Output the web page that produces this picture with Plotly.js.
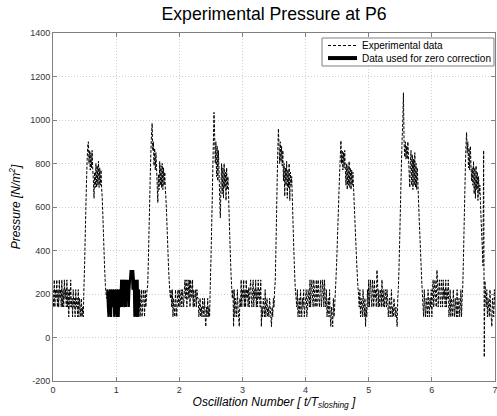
<!DOCTYPE html>
<html>
<head>
<meta charset="utf-8">
<script src="https://cdn.plot.ly/plotly-3.0.1.min.js"></script>
<style>
  html, body { margin: 0; padding: 0; background: #fff; }
  #chart { width: 497px; height: 416px; }
</style>
</head>
<body>
<div id="chart"></div>
<script>
// Sample spacing of the record (oscillation numbers)
const sampleStart = 0;
const sampleStep = 0.01;

// Pressure samples [N/m^2], segment by segment
const baseA = [220,140,265,140,220,180,265,140,220,140, 265,180,220,140,265,140,220,140,265,180,
  220,140,265,140,220,95,220,140,265,140, 180,95,220,140,180,95,220,140,180,95,
  220,95,180,140,95,180,95,140,95];
const pulse1 = [230,330,460,590,710,810,880, 900,800,860,770,850,780,860,770,
  720,640,760,690, 800,690,790,700,810,690,780,700,770,690, 640,560,470,380,300,240,200,180];
const baseB = [220,140,95,180,220,140,95,220,140,180, 220,95,140,220,180,95,220,140,95,220,140,180,
  265,140,220,265,180,140,265,220,140,265,180,265,140,220,265, 310,265,310,220,310,
  265,95,220,265,95,180,265,95, 220,140,95,180,220,95,140,220,180,95,220,140,180,220];
const pulse2 = [240,350,480,610,740,850,930, 985,860,900,790,870,770,850,780,
  700,620,750,680, 810,700,790,690,800,680,780,700,760,680, 630,560,480,400,320,260,210,180,220];
const baseC = [140,220,95,180,140,95,220,140,95,180,220,140, 220,140,180,220,140,220,180,140,220,265,
  180,265,140,220,265,180,265,140,265,220,180,265,140, 220,140,180,220,140,220,180,
  180,95,140,180,95,140,95,180,140,95,180,95,50,140,95,180,95,140,95];
const pulse3 = [230,340,470,610,760,900,1035, 930,800,900,740,880,720,860,760,
  640,550,700, 800,660,780,640,800,690,760,630,780,680,740, 660,560,460,370,290,230,180,220];
const baseD = [50,220,95,180,140,95,220,140,95,50,180,140,
  265,140,220,180,265,140,220,140,265,180,220,140,230,140,220,265,180,140,220,265,140,220,180,265,140,220,140,265,180,220,140,265,
  50,140,95,180,140,95,220,95,140,180,95,140,95,180,140,95,50,140,95,180,140,220];
const pulse4 = [260,400,560,720,860,960, 880,800,900,810,880,790,860,
  720,800,650,780,700,810,640,770,690,800,630,760,700, 740,640,540,440,350,270,210,180,140];
const baseE = [220,95,140,180,95,220,140,95,180,140,220,95,140,180,220,95,140,220,180,140,
  265,140,220,265,180,140,265,220,140,180,265,140,220,265,180,140,220,265,140,180,265,220,140,265,180,140,220,
  95,140,180,95,220,95,50,140,95,50,180,95,140];
const pulse5 = [200,260,330,410,500,590,680,760,830,905, 800,860,770,850,780,860,770,
  700,800,680,790,700,810,690,780,680,770,700,760, 690,620,550,480,410,340,280,230,190,140,220];
const baseF = [95,180,140,95,220,140,95,180,50,140,95,220,140,
  265,140,220,265,180,140,265,220,140,265,180,220,140,310,265,140,
  220,140,180,220,140,265,180,140,220,140,180,220,140,220,180,
  95,140,180,95,140,220,95,140,95,180,140,95,140,95,50,180];
const pulse6 = [230,320,440,570,700,820,920,1000,1125, 900,830,900,820,880,820,900,830,
  760,690,800, 860,700,840,680,820,700,850,690,800,680,780, 700,620,540,470,400,330,260,200,140];
const baseG = [95,220,140,95,180,140,95,220,140,95,180,140,220,95,
  220,265,140,220,265,180,140,310,265,140,220,265,180,140,265,220,140,265,180,220,140,265,140,220,180,265,
  95,140,220,95,180,140,95,220,140,95,180,140,95,220,95,140,180,95,140,220,95,180];
const pulse7End = [240,360,500,640,770,880,943, 850,900,780,870,770,880,790, 720,780,
  700,810,660,780,640,790,680,760,630,740,660,700, 620,540,470,400,330,860,-90,260,200,140,
  220,95,180,140,95,220,140,95,50,180,140,95,220,140];

// Window used for the zero correction (sample indices)
const zeroStartIndex = 86;
const zeroEndIndex = 137;

// Axis ticks
const xTicks = [0,1,2,3,4,5,6,7];
const yTicks = [-200,0,200,400,600,800,1000,1200,1400];

const pressure = [].concat(baseA, pulse1, baseB, pulse2, baseC, pulse3, baseD,
  pulse4, baseE, pulse5, baseF, pulse6, baseG, pulse7End);

const zeroData = pressure.slice(zeroStartIndex, zeroEndIndex + 1);

const FONT = 'Liberation Sans, Arial, Helvetica, sans-serif';

const traces = [
  {
    type: 'scatter', mode: 'lines', name: 'Experimental data',
    x0: sampleStart, dx: sampleStep, y: pressure,
    line: { color: '#000', width: 1, dash: '3px,1.5px', simplify: false },
    hoverinfo: 'skip', showlegend: false
  },
  {
    type: 'scatter', mode: 'lines', name: 'Data used for zero correction',
    x0: sampleStart + zeroStartIndex * sampleStep, dx: sampleStep, y: zeroData,
    line: { color: '#000', width: 2.2, simplify: false },
    hoverinfo: 'skip', showlegend: false
  }
];

// custom legend placement (paper coordinates)
const lgL = 0.6086, lgR = 0.9977, lgB = 0.9052, lgT = 0.9856;
const row1 = 0.964, row2 = 0.928;
const lnL = 0.6222, lnR = 0.6878, txX = 0.6946;

const gridStyle = { showgrid: true, gridcolor: '#cfcfcf', griddash: '1px,2px', gridwidth: 1 };

const layout = {
  width: 497, height: 416,
  margin: { l: 53, r: 2, t: 33, b: 35 },
  paper_bgcolor: '#fff', plot_bgcolor: '#fff',
  showlegend: false,
  font: { family: FONT, size: 9, color: '#333' },
  title: {
    text: 'Experimental Pressure at P6',
    font: { family: FONT, size: 17.7, color: '#000' },
    x: 0.5, xref: 'paper', xanchor: 'center',
    y: 1, yref: 'container', yanchor: 'top', pad: { t: 8 }
  },
  xaxis: Object.assign({
    range: [0, 7], tickvals: xTicks, ticktext: xTicks.map(String),
    ticks: 'inside', ticklen: 4, tickcolor: '#808080',
    showline: true, linecolor: '#808080', linewidth: 1, mirror: 'ticks',
    zeroline: false, tickfont: { family: FONT, size: 9, color: '#333' },
    ticklabeloverflow: 'allow',
    title: {
      text: '<i>Oscillation Number [ t/T<sub>sloshing</sub> ]</i>',
      font: { family: FONT, size: 12, color: '#000' }, standoff: 2
    },
    automargin: false, fixedrange: true
  }, gridStyle),
  yaxis: Object.assign({
    range: [-200, 1400], tickvals: yTicks, ticktext: yTicks.map(String),
    ticks: 'inside', ticklen: 4, tickcolor: '#808080',
    showline: true, linecolor: '#808080', linewidth: 1, mirror: 'ticks',
    zeroline: false, tickfont: { family: FONT, size: 9, color: '#333' },
    ticklabeloverflow: 'allow',
    title: {
      text: '<i>Pressure [N/m<sup>2</sup>]</i>',
      font: { family: FONT, size: 12, color: '#000' }, standoff: 6
    },
    automargin: false, fixedrange: true
  }, gridStyle),
  shapes: [
    { type: 'rect', xref: 'paper', yref: 'paper', x0: lgL, x1: lgR, y0: lgB, y1: lgT,
      line: { color: '#808080', width: 1 }, fillcolor: '#fff', layer: 'above' },
    { type: 'line', xref: 'paper', yref: 'paper', x0: lnL, x1: lnR, y0: row1, y1: row1,
      line: { color: '#000', width: 1, dash: '3px,2px' }, layer: 'above' },
    { type: 'line', xref: 'paper', yref: 'paper', x0: lnL, x1: lnR, y0: row2, y1: row2,
      line: { color: '#000', width: 4 }, layer: 'above' }
  ],
  annotations: [
    { xref: 'paper', yref: 'paper', x: txX, y: row1, xanchor: 'left', yanchor: 'middle',
      text: 'Experimental data', showarrow: false, font: { family: FONT, size: 10, color: '#000' } },
    { xref: 'paper', yref: 'paper', x: txX, y: row2, xanchor: 'left', yanchor: 'middle',
      text: 'Data used for zero correction', showarrow: false, font: { family: FONT, size: 10, color: '#000' } }
  ]
};

Plotly.newPlot('chart', traces, layout, { staticPlot: true, displayModeBar: false });
</script>
</body>
</html>
